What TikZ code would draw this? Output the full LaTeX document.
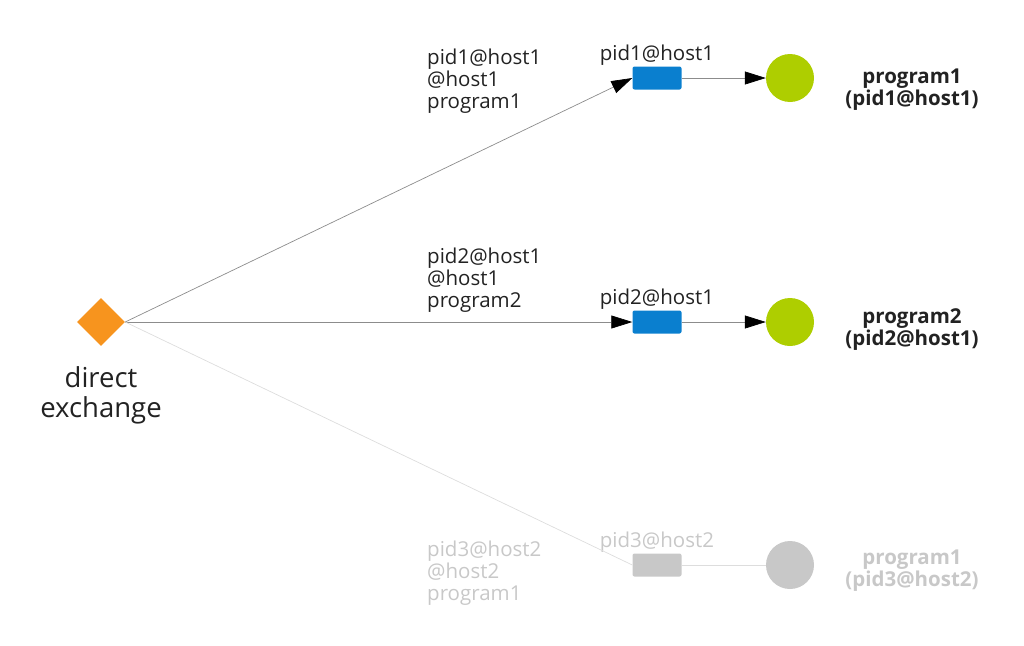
\documentclass[tikz,border=0pt]{standalone}
\usepackage{fontspec}
\setmainfont{Open Sans}
\usetikzlibrary{arrows.meta, shapes.geometric, positioning}
\definecolor{exorange}{HTML}{F7941E}
\definecolor{qblue}{HTML}{0A7FCF}
\definecolor{cgreen}{HTML}{AECE00}
\definecolor{txtdark}{HTML}{222222}
\definecolor{offgrey}{HTML}{C8C8C8}
\definecolor{linegrey}{HTML}{8C8C8C}
\definecolor{offline}{HTML}{DDDDDD}
\tikzset{
  exch/.style={diamond, fill=exorange, minimum width=48pt, minimum height=48pt, inner sep=0pt},
  queue/.style={rectangle, rounded corners=2pt, fill=qblue, minimum width=49pt, minimum height=23pt, inner sep=0pt},
  consumer/.style={circle, fill=cgreen, minimum size=48pt, inner sep=0pt},
  lbl/.style={font=\fontsize{20.5}{22}\selectfont, text=txtdark, inner sep=0pt},
  bold lbl/.style={lbl, font=\fontsize{20.5}{22}\bfseries, align=center},
  bind/.style={draw=linegrey, line width=0.7pt, -{Triangle[length=21pt,width=13pt,black]}},
  off/.style={text=offgrey}
}
\begin{document}
\begin{tikzpicture}[x=1pt, y=-1pt]
\useasboundingbox (0,0) rectangle (1024,645);
%% exchange
\node[exch] (ex) at (101,322) {};
\node[lbl, font=\fontsize{27.5}{30}\selectfont, align=center, below=20pt of ex] (exlbl) {direct\\exchange};
%% queues
\node[queue] (q1) at (657,78) {};
\node[queue] (q2) at (657,322) {};
\node[queue, fill=offgrey] (q3) at (657,565) {};
\node[lbl, above=1pt of q1] (q1lbl) {pid1@host1};
\node[lbl, above=1pt of q2] (q2lbl) {pid2@host1};
\node[lbl, off, above=1pt of q3] (q3lbl) {pid3@host2};
%% consumers
\node[consumer] (c1) at (790,78) {};
\node[consumer] (c2) at (790,322) {};
\node[consumer, fill=offgrey] (c3) at (790,565) {};
\node[bold lbl] (c1lbl) at (912,90) {program1\\(pid1@host1)};
\node[bold lbl] (c2lbl) at (912,330) {program2\\(pid2@host1)};
\node[bold lbl, off] (c3lbl) at (912,571) {program1\\(pid3@host2)};
%% binding keys
\node[lbl, align=left, anchor=west] (k1) at (427,81) {pid1@host1\\@host1\\program1};
\node[lbl, align=left, anchor=west] (k2) at (427,280) {pid2@host1\\@host1\\program2};
\node[lbl, off, align=left, anchor=west] (k3) at (427,573) {pid3@host2\\@host2\\program1};
%% bindings
\draw[bind] (ex.east) -- (q1.west);
\draw[bind] (ex.east) -- (q2.west);
\draw[draw=offline, line width=0.7pt] (ex.east) -- (q3.west);
%% deliveries
\draw[bind] (q1.east) -- (c1.west);
\draw[bind] (q2.east) -- (c2.west);
\draw[draw=offline, line width=0.7pt] (q3.east) -- (c3.west);
\end{tikzpicture}
\end{document}
